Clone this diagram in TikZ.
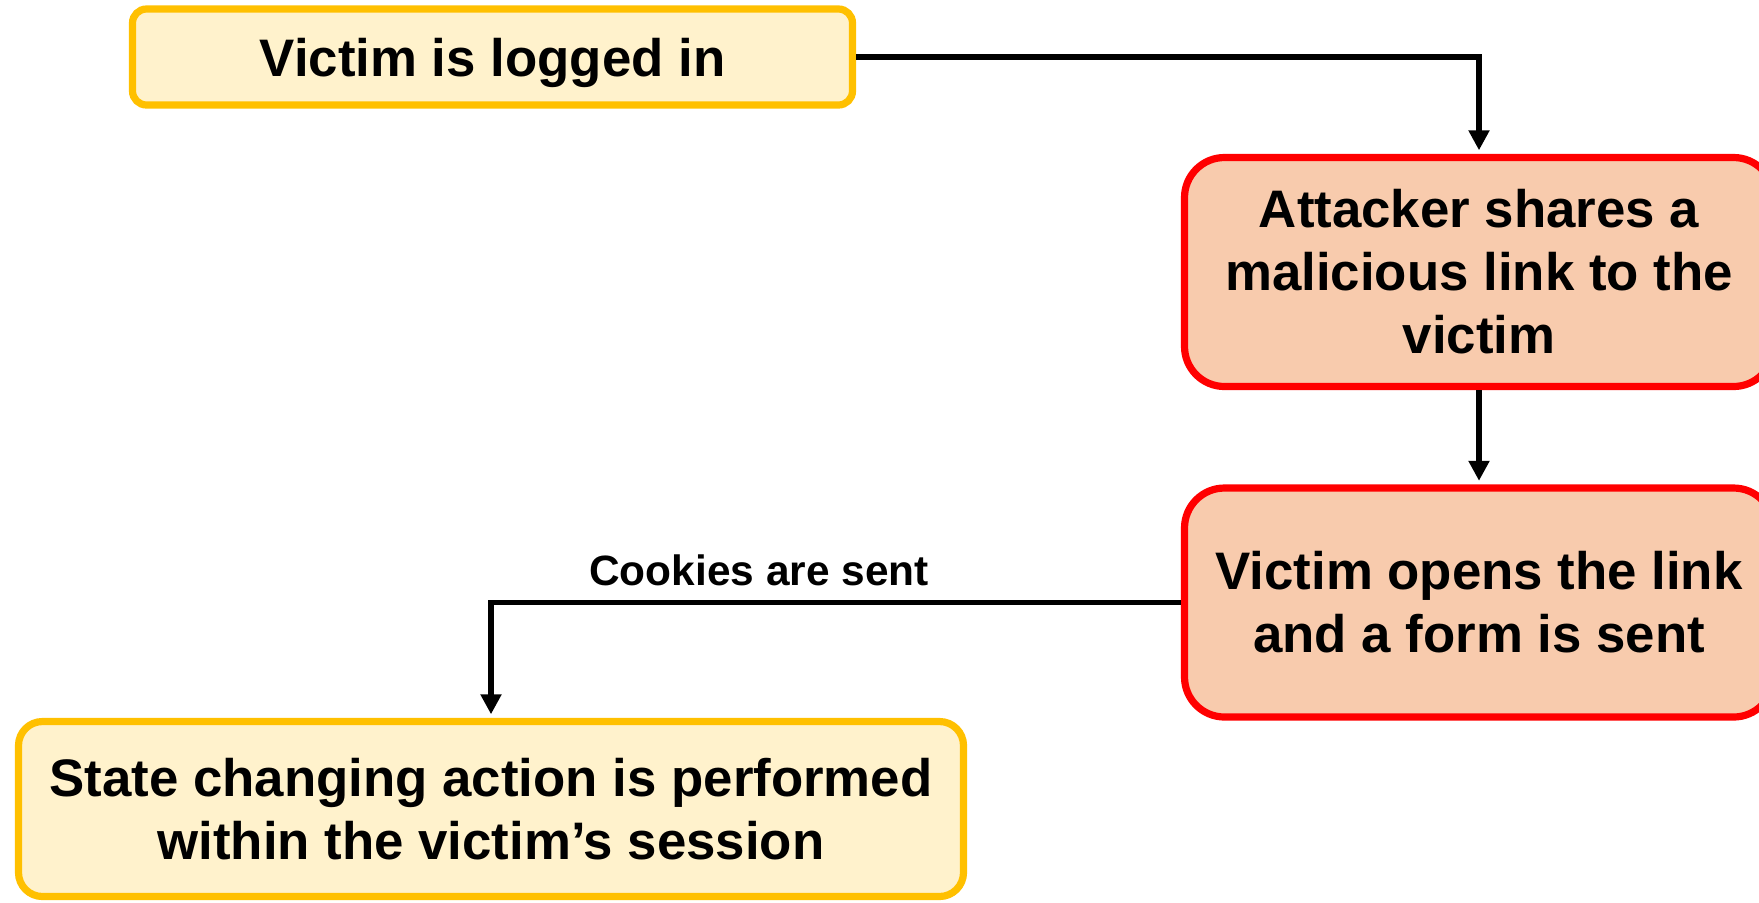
\documentclass[tikz,border=0pt]{standalone}
\usepackage{fontspec}
\setmainfont{Liberation Sans}
\usetikzlibrary{arrows.meta}
\definecolor{stepyellow}{HTML}{FFF2CC}
\definecolor{stepamber}{HTML}{FFC000}
\definecolor{stepsalmon}{HTML}{F8CBAD}
\begin{document}
\begin{tikzpicture}[x=0.5pt, y=-0.5pt, >={Triangle[length=10pt,width=10pt]}, line width=2.6pt,
  every node/.style={font=\fontsize{26.4}{31.5}\selectfont\bfseries, align=center},
  userbox/.style={draw=stepamber, fill=stepyellow, line width=3.6pt, rounded corners=7pt},
  attackbox/.style={draw=red, fill=stepsalmon, line width=3.6pt, rounded corners=20pt}]
  \useasboundingbox (0,0) rectangle (1759,902);

  % Schritte
  \node[userbox, text depth=0pt, minimum width=360pt, minimum height=48pt] (login) at (492.5,57) {Victim is logged in};
  \node[attackbox, minimum width=294.5pt, minimum height=114.5pt] (share) at (1479,272) {Attacker shares a\\malicious link to the\\victim};
  \node[attackbox, minimum width=294.5pt, minimum height=114.5pt] (opens) at (1479,602.5) {Victim opens the link\\and a form is sent};
  \node[userbox, rounded corners=12pt, minimum width=472.5pt, minimum height=87.5pt] (action) at (491,809) {State changing action is performed\\within the victim's session};

  % Beschriftung
  \node[font=\fontsize{21.2}{25}\selectfont\bfseries] (cookies) at (759,570) {Cookies are sent};

  % Pfeile
  \draw[->, shorten >=1.8pt] (login.east) -| (share.north);
  \draw[->, shorten >=1.8pt] (share) -- (opens);
  \draw[->, shorten >=1.8pt] (opens.west) -| (action.north);
\end{tikzpicture}
\end{document}
